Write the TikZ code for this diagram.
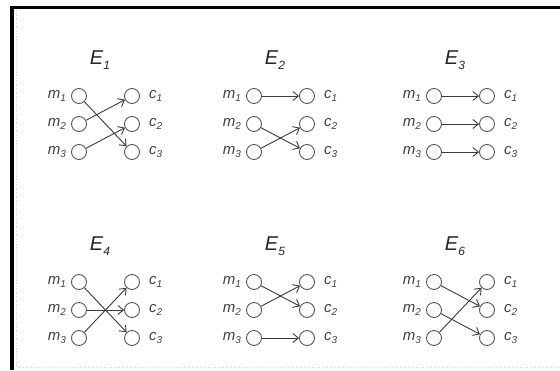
\documentclass[tikz,border=0pt]{standalone}
\usepackage{fontspec}
\setmainfont{Liberation Sans}
\usetikzlibrary{arrows.meta}
\definecolor{txt}{HTML}{404040}
\definecolor{ln}{HTML}{3A3A3A}
\definecolor{circ}{HTML}{555555}
\newcommand\sublab[3]{\textit{#1}\raisebox{-0.45ex}{\fontsize{#3}{#3}\selectfont\textit{#2}}}
\newcommand\mypanel[4]{%
  \node[ttl] (#1E) at (#2+21,#3) {\sublab{E}{#4}{12}};
  \foreach \r/\dy in {1/36,2/64,3/92}{
    \node[st] (#1m\r) at (#2,#3+\dy) {};
    \node[st] (#1c\r) at (#2+53,#3+\dy) {};
    \node[lab, anchor=east] (#1ml\r) at ([xshift=-5pt]#1m\r.west) {\sublab{m}{\r}{10}};
    \node[lab, anchor=west] (#1cl\r) at ([xshift=9pt]#1c\r.east) {\sublab{c}{\r}{10}};
  }}
\begin{document}
\begin{tikzpicture}[x=1pt,y=-1pt,
  st/.style={circle, draw=circ, line width=0.9pt, minimum size=15pt, inner sep=0pt},
  lab/.style={text=txt, font=\fontsize{15}{15}\selectfont, inner sep=0pt},
  ttl/.style={text=black!85, font=\fontsize{20}{20}\selectfont, inner sep=0pt},
  arr/.style={draw=ln, line width=0.9pt, -{Straight Barb[length=5.5pt,width=9pt]}},
  frame/.style={draw=black}]
\useasboundingbox (0,0) rectangle (560,370);
% frame
\draw[frame, line width=3pt] (10,7.5) -- (560,7.5);
\draw[frame, line width=4pt] (12,6) -- (12,370);
\draw[gray!35, dotted, line width=0.6pt] (16,10) -- (16,367) -- (560,367);
% panels
\mypanel{a}{79}{60}{1}
\mypanel{b}{254}{60}{2}
\mypanel{c}{434}{60}{3}
\mypanel{d}{79}{246}{4}
\mypanel{e}{254}{246}{5}
\mypanel{f}{434}{246}{6}
% E1
\draw[arr] (am1) -- (ac3);
\draw[arr] (am2) -- (ac1);
\draw[arr] (am3) -- (ac2);
% E2
\draw[arr] (bm1) -- (bc1);
\draw[arr] (bm2) -- (bc3);
\draw[arr] (bm3) -- (bc2);
% E3
\draw[arr] (cm1) -- (cc1);
\draw[arr] (cm2) -- (cc2);
\draw[arr] (cm3) -- (cc3);
% E4
\draw[arr] (dm1) -- (dc3);
\draw[arr] (dm2) -- (dc2);
\draw[arr] (dm3) -- (dc1);
% E5
\draw[arr] (em1) -- (ec2);
\draw[arr] (em2) -- (ec1);
\draw[arr] (em3) -- (ec3);
% E6
\draw[arr] (fm1) -- (fc2);
\draw[arr] (fm2) -- (fc3);
\draw[arr] (fm3) -- (fc1);
\end{tikzpicture}
\end{document}
